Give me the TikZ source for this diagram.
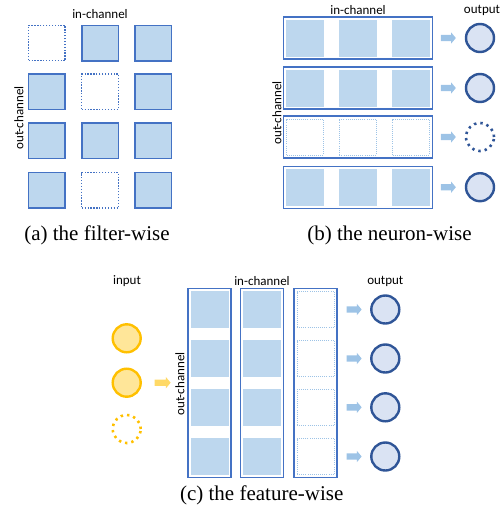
\documentclass[tikz,border=0pt]{standalone}
\usepackage{fontspec}
\setmainfont{Liberation Serif}
\newfontfamily\labfont{Carlito}
\usetikzlibrary{shapes.arrows}
\definecolor{bfill}{HTML}{BDD7EE}
\definecolor{bborder}{HTML}{4472C4}
\definecolor{arrblue}{HTML}{9DC3E6}
\definecolor{cfill}{HTML}{DAE3F3}
\definecolor{cborder}{HTML}{2F5597}
\definecolor{yfill}{HTML}{FFE699}
\definecolor{yarr}{HTML}{FFD966}
\definecolor{yborder}{HTML}{FFC000}
\tikzset{
  fsq/.style={draw=bborder, fill=bfill, line width=1.5pt, minimum width=36.5pt, minimum height=35.5pt, inner sep=0pt},
  esq/.style={draw=bborder, line width=1.4pt, dash pattern=on 1.3pt off 1.6pt, minimum width=36.5pt, minimum height=35.5pt, inner sep=0pt},
  isq/.style={fill=bfill, minimum width=38pt, minimum height=37pt, inner sep=0pt},
  iesq/.style={draw=arrblue, line width=0.9pt, dash pattern=on 0.9pt off 1.2pt, minimum width=37pt, minimum height=36pt, inner sep=0pt},
  rowbox/.style={draw=bborder, line width=1.2pt, minimum width=149pt, minimum height=42pt, inner sep=0pt},
  colbox/.style={draw=bborder, line width=1.2pt, minimum width=43pt, minimum height=189.5pt, inner sep=0pt},
  outc/.style={circle, draw=cborder, fill=cfill, line width=2.4pt, minimum size=28pt, inner sep=0pt},
  outcd/.style={circle, draw=cborder, line width=2.6pt, dash pattern=on 2.4pt off 4pt, minimum size=28pt, inner sep=0pt},
  inc/.style={circle, draw=yborder, fill=yfill, line width=2.4pt, minimum size=28pt, inner sep=0pt},
  incd/.style={circle, draw=yborder, line width=2.6pt, dash pattern=on 2.4pt off 4pt, minimum size=28pt, inner sep=0pt},
  barrow/.style={single arrow, fill=arrblue, minimum height=15pt, minimum width=11pt, single arrow head extend=2.5pt, inner xsep=0pt, inner ysep=3pt, single arrow tip angle=100},
  yarrow/.style={single arrow, fill=yarr, minimum height=16pt, minimum width=11pt, single arrow head extend=2.5pt, inner xsep=0pt, inner ysep=3pt, single arrow tip angle=100},
  lab/.style={font=\labfont\fontsize{13}{15}\selectfont, inner sep=0pt},
  captext/.style={font=\fontsize{21}{24}\selectfont, inner sep=0pt}
}
\begin{document}
\begin{tikzpicture}[x=1pt,y=-1pt]
\useasboundingbox (0,0) rectangle (501,517);
% ---------- (a) filter-wise
\node[esq] (a11) at (46.9,43) {};
\node[fsq] (a12) at (100,43) {};
\node[fsq] (a13) at (153.2,43) {};
\node[fsq] (a21) at (46.9,91.8) {};
\node[esq] (a22) at (100,91.8) {};
\node[fsq] (a23) at (153.2,91.8) {};
\node[fsq] (a31) at (46.9,140.8) {};
\node[fsq] (a32) at (100,140.8) {};
\node[fsq] (a33) at (153.2,140.8) {};
\node[fsq] (a41) at (46.9,190.3) {};
\node[esq] (a42) at (100,190.3) {};
\node[fsq] (a43) at (153.2,190.3) {};
\node[lab] (ain) at (100,14) {in-channel};
\node[lab, rotate=90] (aout) at (19,118) {out-channel};
\node[captext] (acap) at (97,235) {(a) the filter-wise};
% ---------- (b) neuron-wise
\foreach \r/\y in {1/38,2/88,3/137,4/187.2}{
  \node[rowbox] (brow\r) at (357.7,\y) {};
}
\foreach \r/\y in {1/38,2/88,4/187.2}{
  \node[isq] (b\r a) at (305,\y) {};
  \node[isq] (b\r b) at (357.8,\y) {};
  \node[isq] (b\r c) at (411,\y) {};
  \node[barrow] (barr\r) at (447,\y) {};
  \node[outc] (bo\r) at (480,\y) {};
}
\node[iesq] (b3a) at (305,137) {};
\node[iesq] (b3b) at (357.8,137) {};
\node[iesq] (b3c) at (411,137) {};
\node[barrow] (barr3) at (447,137) {};
\node[outcd] (bo3) at (480,137) {};
\node[lab] (bin) at (358,10) {in-channel};
\node[lab] (bout) at (482,10) {output};
\node[lab, rotate=90] (boc) at (277,113) {out-channel};
\node[captext] (bcap) at (389.5,235) {(b) the neuron-wise};
% ---------- (c) feature-wise
\node[inc] (ci1) at (126.7,338.3) {};
\node[inc] (ci2) at (126.7,382.7) {};
\node[incd] (ci3) at (126.7,429) {};
\node[yarrow] (cya) at (161.3,382.7) {};
\node[colbox] (ccol1) at (209.5,383) {};
\node[colbox] (ccol2) at (262.3,383) {};
\node[colbox] (ccol3) at (315.5,383) {};
\foreach \k/\y in {1/309.5,2/358.5,3/407.3,4/456.5}{
  \node[isq] (c1\k) at (209.5,\y) {};
  \node[isq] (c2\k) at (262.3,\y) {};
  \node[iesq] (c3\k) at (315.5,\y) {};
  \node[barrow] (carr\k) at (352.8,\y) {};
  \node[outc] (co\k) at (385.3,\y) {};
}
\node[lab] (cinp) at (127,281) {input};
\node[lab] (cin) at (262,281) {in-channel};
\node[lab] (cout) at (385.3,281) {output};
\node[lab, rotate=90] (coc) at (180,384) {out-channel};
\node[captext] (ccap) at (261.7,495) {(c) the feature-wise};
\end{tikzpicture}
\end{document}
